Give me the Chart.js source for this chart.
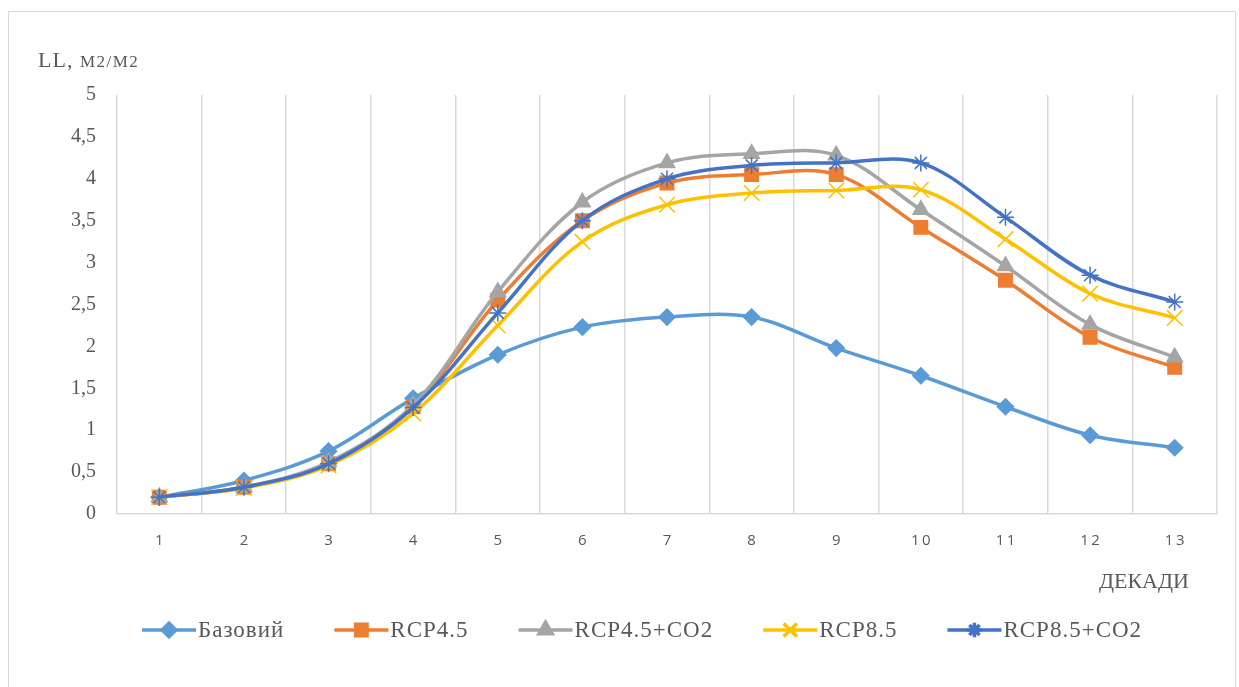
<!DOCTYPE html>
<html>
<head>
<meta charset="utf-8">
<script src="https://cdn.jsdelivr.net/npm/chart.js@4.4.1/dist/chart.umd.min.js"></script>
<style>
  html, body { margin: 0; padding: 0; background: #fff; }
  #wrap { position: relative; width: 1239px; height: 687px; overflow: hidden; }
  #frame { position: absolute; left: 8px; top: 11px; width: 1226px; height: 700px; border: 1.5px solid #d9d9d9; }
  #chart { position: absolute; left: 0; top: 0; }
  .lbl { position: absolute; font-family: "Liberation Serif", serif; color: #595959; white-space: nowrap; }
</style>
</head>
<body>
<div id="wrap">
  <div id="frame"></div>
  <canvas id="chart" width="1239" height="687"></canvas>
  <div class="lbl" style="left:38px; top:47px; font-size:22px; letter-spacing:1px;">LL, <span style="font-size:17px; letter-spacing:1.5px;">М2/М2</span></div>
  <div class="lbl" style="left:1099px; top:568px; font-size:22px;">ДЕКАДИ</div>
</div>
<script>
// Декади
const decades = ['1', '2', '3', '4', '5', '6', '7', '8', '9', '10', '11', '12', '13'];

// LL, м2/м2 по сценаріях
const baseValues   = [0.2, 0.40, 0.75, 1.38, 1.90, 2.23, 2.35, 2.35, 1.98, 1.65, 1.28, 0.94, 0.79];
const rcp45        = [0.2, 0.32, 0.60, 1.28, 2.55, 3.50, 3.95, 4.05, 4.05, 3.42, 2.79, 2.11, 1.75];
const rcp45co2     = [0.2, 0.32, 0.62, 1.30, 2.65, 3.72, 4.19, 4.30, 4.28, 3.63, 2.96, 2.26, 1.87];
const rcp85        = [0.2, 0.31, 0.58, 1.20, 2.25, 3.25, 3.69, 3.83, 3.86, 3.87, 3.28, 2.63, 2.34];
const rcp85co2     = [0.2, 0.32, 0.60, 1.27, 2.40, 3.50, 4.00, 4.16, 4.19, 4.19, 3.54, 2.85, 2.53];

const yTicks = [0, 0.5, 1, 1.5, 2, 2.5, 3, 3.5, 4, 4.5, 5];

const series = [
    { label: 'Базовий',     data: baseValues, color: '#5B9BD5', style: 'rectRot',  radius: 8 },
    { label: 'RCP4.5',      data: rcp45,      color: '#ED7D31', style: 'rect',     radius: 9.5 },
    { label: 'RCP4.5+CO2',  data: rcp45co2,   color: '#A5A5A5', style: 'triangle', radius: 9 },
    { label: 'RCP8.5',      data: rcp85,      color: '#FFC000', style: 'crossRot', radius: 11 },
    { label: 'RCP8.5+CO2',  data: rcp85co2,   color: '#4472C4', style: 'star',     radius: 8.5 }
];

const FONT = '"Liberation Serif", serif';
const SANS = '"Open Sans", "Noto Sans", sans-serif';

// Легенда як у Excel: лінія з маркером
const excelLegend = {
    id: 'excelLegend',
    afterDraw(chart) {
        const ctx = chart.ctx;
        const y = 630;
        let x = 142;
        ctx.save();
        ctx.font = '23px ' + FONT;
        ctx.letterSpacing = '1px';
        ctx.textBaseline = 'middle';
        series.forEach(s => {
            ctx.strokeStyle = s.color;
            ctx.lineWidth = 3.5;
            ctx.beginPath();
            ctx.moveTo(x, y);
            ctx.lineTo(x + 54, y);
            ctx.stroke();
            ctx.fillStyle = s.color;
            ctx.strokeStyle = s.color;
            Chart.helpers.drawPoint(ctx, { pointStyle: s.style, radius: s.radius * 0.85, rotation: 0, borderWidth: 1.5 }, x + 27, y);
            ctx.fillStyle = '#595959';
            ctx.fillText(s.label, x + 56, y + 1);
            x += 56 + ctx.measureText(s.label).width + 50;
        });
        ctx.restore();
    }
};

new Chart(document.getElementById('chart'), {
    type: 'line',
    data: {
        labels: decades,
        datasets: series.map((s, i) => ({
            label: s.label,
            data: s.data,
            borderColor: s.color,
            backgroundColor: s.color,
            borderWidth: 3.5,
            pointStyle: s.style,
            pointRadius: s.radius,
            pointBorderWidth: 1.5,
            tension: 0.35,
            order: series.length - i
        }))
    },
    options: {
        responsive: false,
        animation: false,
        layout: { padding: { left: 0, top: 95, right: 22, bottom: 0 } },
        plugins: {
            legend: { display: false },
            tooltip: { enabled: false }
        },
        scales: {
            x: {
                offset: true,
                grid: { display: true, offset: true, color: '#d9d9d9', lineWidth: 1.5, drawTicks: false },
                border: { display: true, color: '#d9d9d9', width: 1.5 },
                ticks: {
                    color: '#595959',
                    font: { family: SANS, size: 15 },
                    padding: 18,
                    maxRotation: 0,
                    // розрядка цифр як у Excel
                    callback: v => decades[v].split('').join('\u2009')
                },
                afterFit(scale) { scale.height = 173; }
            },
            y: {
                min: 0,
                max: 5,
                afterBuildTicks(scale) { scale.ticks = yTicks.map(v => ({ value: v })); },
                grid: { display: false, drawTicks: false },
                border: { display: false },
                ticks: {
                    color: '#595959',
                    font: { family: FONT, size: 20 },
                    padding: 21,
                    callback: v => String(v).replace('.', ',')
                },
                afterFit(scale) { scale.width = 117; }
            }
        }
    },
    plugins: [excelLegend]
});
</script>
</body>
</html>
